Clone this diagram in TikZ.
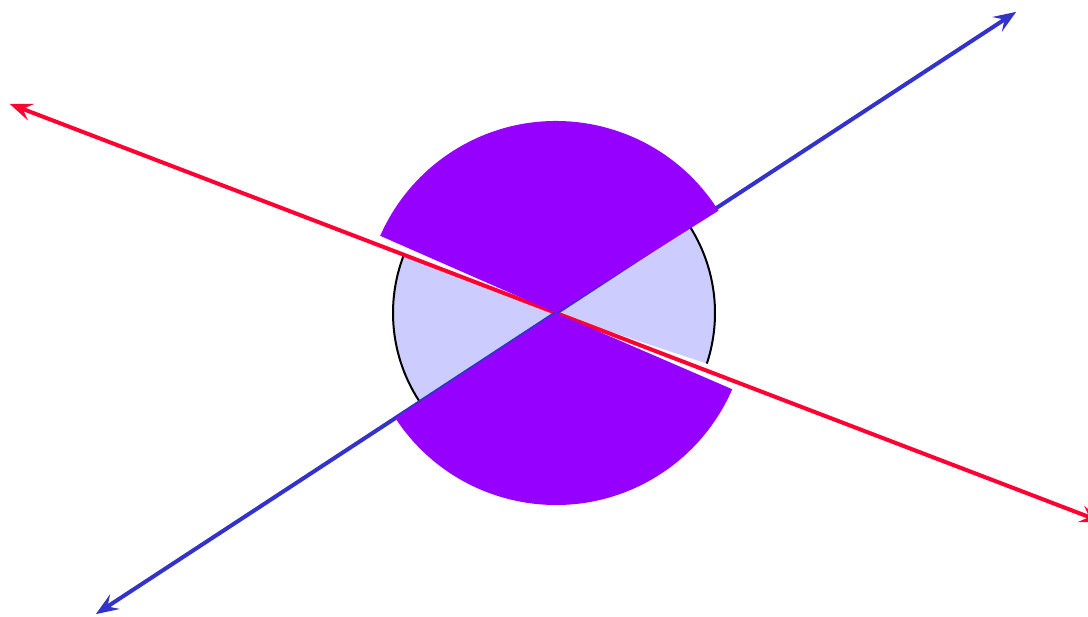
\documentclass[tikz,border=0pt]{standalone}
\usetikzlibrary{arrows.meta,calc}
\definecolor{lineRed}{RGB}{255,0,51}
\definecolor{lineBlue}{RGB}{51,51,204}
\definecolor{sectorPurple}{RGB}{150,0,255}
\definecolor{wedgeBlue}{RGB}{204,204,255}
\begin{document}
\begin{tikzpicture}[x=0.75pt,y=0.75pt,
  redline/.style={draw=lineRed,line width=3pt,{Stealth[length=17pt,width=13pt,inset=6.5pt]}-{Stealth[length=17pt,width=13pt,inset=6.5pt]}},
  blueline/.style={draw=lineBlue,line width=3pt,{Stealth[length=17pt,width=13pt,inset=6.5pt]}-{Stealth[length=17pt,width=13pt,inset=6.5pt]}},
  wedge/.style={fill=wedgeBlue},
  rim/.style={draw=black,line width=1.5pt},
  sector/.style={fill=sectorPurple}]
\useasboundingbox (0,0) rectangle (1088,617);
\coordinate (C) at (556,304);
\coordinate (W) at (554,304);
% light wedges
\fill[wedge] (W) -- ++(158.5:161) arc[start angle=158.5,end angle=213,radius=161] -- cycle;
\fill[wedge] (W) -- ++(-18.3:161) arc[start angle=-18.3,end angle=33.2,radius=161] -- cycle;
\draw[rim] (W) ++(158.5:161) arc[start angle=158.5,end angle=213,radius=161];
\draw[rim] (W) ++(-18.3:161) arc[start angle=-18.3,end angle=33.2,radius=161];
% lines
\coordinate (R1) at ($(C)+(159.06:585)$);
\coordinate (R2) at ($(C)+(-20.94:585)$);
\coordinate (B1) at ($(C)+(33.2:550)$);
\coordinate (B2) at ($(C)+(213.2:550)$);
\draw[redline] (R1) -- (R2);
\draw[blueline] (B2) -- (B1);
% purple sectors
\fill[sector] (C) -- ++(32.2:192) arc[start angle=32.2,end angle=156.3,radius=192] -- cycle;
\fill[sector] (C) -- ++(213.2:192) arc[start angle=213.2,end angle=336.6,radius=192] -- cycle;
\end{tikzpicture}
\end{document}
